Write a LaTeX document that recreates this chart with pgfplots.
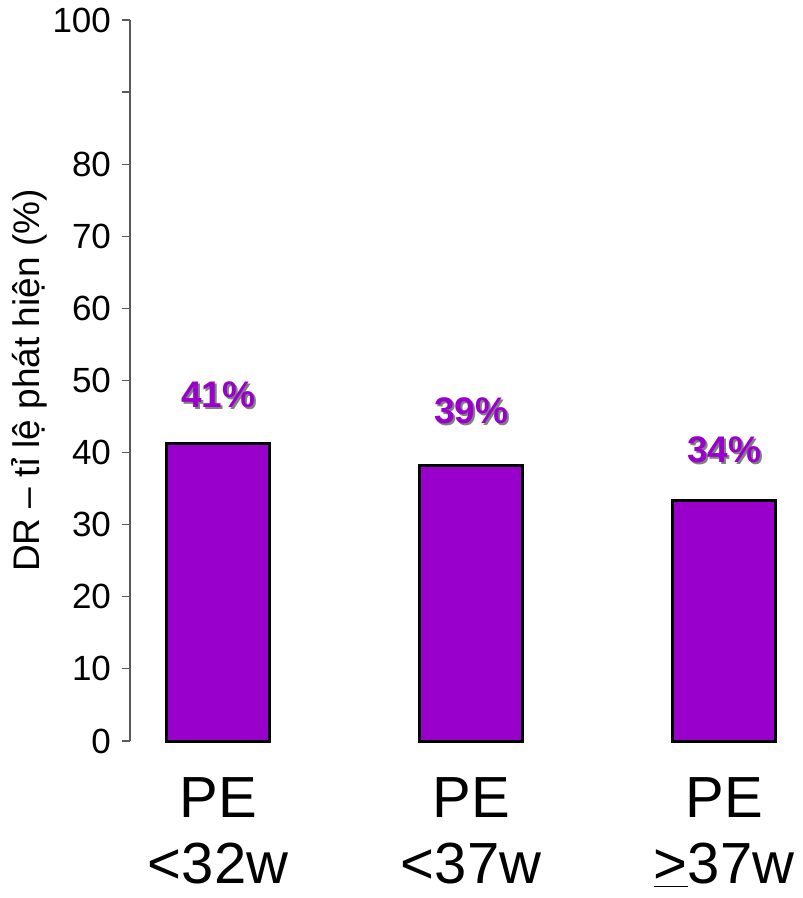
\documentclass[border=0pt]{standalone}
\usepackage{pgfplots}
\pgfplotsset{compat=1.18}
\usepackage{fontspec}
\setmainfont{Liberation Sans}
\definecolor{barpurple}{RGB}{153,0,204}
\definecolor{axisgray}{RGB}{90,90,90}
\tikzset{barlab/.style={font=\bfseries\fontsize{18.5}{21}\selectfont},
  shadowlab/.style={barlab, text=gray}, mainlab/.style={barlab, text=barpurple}}
\begin{document}
\begin{tikzpicture}
\begin{axis}[
  at={(0pt,0pt)}, anchor=south west,
  scale only axis,
  width=334pt, height=360.5pt,
  xmin=-0.348, xmax=2.292,
  ymin=0, ymax=100,
  enlargelimits=false,
  axis y line=left,
  axis x line=bottom,
  x axis line style={draw=none},
  y axis line style={-, draw=axisgray, line width=0.8pt},
  xtick={0,1,2},
  xticklabels={{PE\\<32w},{PE\\<37w},{PE\\\underline{>}37w}},
  xtick style={draw=none},
  xticklabel style={align=center, font=\fontsize{29}{33}\selectfont, yshift=-11pt},
  ytick={0,10,20,30,40,50,60,70,80,90,100},
  yticklabels={0,10,20,30,40,50,60,70,80,{},100},
  ytick style={draw=axisgray, line width=0.6pt},
  tick align=outside,
  major tick length=4pt,
  yticklabel style={font=\fontsize{17.5}{21}\selectfont, xshift=-2pt},
  ylabel={DR – tỉ lệ phát hiện (\%)},
  ylabel style={at={(axis description cs:-0.113,0.5)}, anchor=south, font=\fontsize{18.5}{21}\selectfont},
  clip=false,
]
\addplot[ybar, bar width=51.5pt, fill=barpurple, draw=black, line width=1.5pt]
  coordinates {(0,41.2) (1,38.2) (2,33.3)};
\node[shadowlab] at ([xshift=1pt,yshift=-1pt]axis cs:0,48) {41\%};
\node[mainlab] at (axis cs:0,48) {41\%};
\node[shadowlab] at ([xshift=1pt,yshift=-1pt]axis cs:1,45.8) {39\%};
\node[mainlab] at (axis cs:1,45.8) {39\%};
\node[shadowlab] at ([xshift=1pt,yshift=-1pt]axis cs:2,40.4) {34\%};
\node[mainlab] at (axis cs:2,40.4) {34\%};
\end{axis}
\pgfresetboundingbox
\path[use as bounding box] (-65pt,-78.5pt) rectangle (336pt,370.5pt);
\end{tikzpicture}
\end{document}
